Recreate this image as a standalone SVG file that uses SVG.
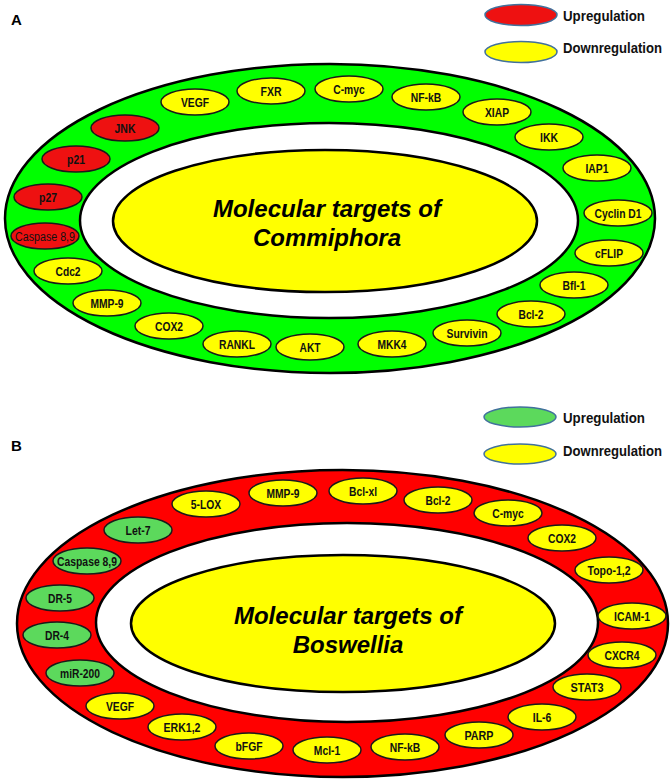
<svg xmlns="http://www.w3.org/2000/svg" width="671" height="784" viewBox="0 0 671 784">
<style>
text{font-family:"Liberation Sans",Arial,sans-serif;}
.n ellipse{stroke:#1a1a1a;stroke-width:1.5}
.n text{font-size:12px;font-weight:bold;text-anchor:middle;fill:#111}
.y ellipse{fill:#FFFF00}
.r ellipse{fill:#EE1111}
.g ellipse{fill:#5CD95C}
.ring{stroke:#000;stroke-width:2.5}
.title{font-size:24px;font-weight:bold;font-style:italic;text-anchor:middle;fill:#000}
.leg{font-size:13.8px;font-weight:bold;fill:#111}
.lege{stroke:#41719C;stroke-width:1.5}
.panel{font-size:15px;font-weight:bold;fill:#000}
</style>
<rect width="671" height="784" fill="#fff"/>
<g id="connectors"/>

<!-- Panel A -->
<g id="panelA-frame">
<text class="panel" x="11" y="25">A</text>
<ellipse class="ring" cx="330" cy="218.5" rx="325" ry="154.5" fill="#00FF00"/>
<ellipse class="ring" cx="329" cy="220.5" rx="249" ry="97.5" fill="#fff"/>
</g>
<g id="a-center">
<ellipse class="ring" cx="325" cy="221" rx="212" ry="71" fill="#FFFF00"/>
<text class="title" x="327" y="217">Molecular targets of</text>
<text class="title" x="327" y="246">Commiphora</text>
</g>
<g id="a-legend-up"><ellipse class="lege" cx="521" cy="15" rx="36" ry="10.5" fill="#EE1111"/><text class="leg" x="563" y="21" textLength="82" lengthAdjust="spacingAndGlyphs">Upregulation</text></g>
<g id="a-legend-down"><ellipse class="lege" cx="521" cy="52" rx="36" ry="10.5" fill="#FFFF00"/><text class="leg" x="563" y="53" textLength="99" lengthAdjust="spacingAndGlyphs">Downregulation</text></g>

<g id="a-jnk" class="n r"><ellipse cx="125" cy="128" rx="34" ry="13"/><text x="125" y="132.5" textLength="21" lengthAdjust="spacingAndGlyphs">JNK</text></g>
<g id="a-vegf" class="n y"><ellipse cx="195" cy="102" rx="34" ry="13"/><text x="195" y="106.5" textLength="28" lengthAdjust="spacingAndGlyphs">VEGF</text></g>
<g id="a-fxr" class="n y"><ellipse cx="271" cy="91" rx="34" ry="13"/><text x="271" y="95.5" textLength="21" lengthAdjust="spacingAndGlyphs">FXR</text></g>
<g id="a-cmyc" class="n y"><ellipse cx="349" cy="89" rx="34" ry="13"/><text x="349" y="93.5" textLength="31.5" lengthAdjust="spacingAndGlyphs">C-myc</text></g>
<g id="a-nfkb" class="n y"><ellipse cx="426" cy="97" rx="34" ry="13"/><text x="426" y="101.5" textLength="30.4" lengthAdjust="spacingAndGlyphs">NF-kB</text></g>
<g id="a-xiap" class="n y"><ellipse cx="497" cy="112" rx="34" ry="13"/><text x="497" y="116.5" textLength="24" lengthAdjust="spacingAndGlyphs">XIAP</text></g>
<g id="a-ikk" class="n y"><ellipse cx="549" cy="137" rx="34" ry="13"/><text x="549" y="141.5" textLength="18" lengthAdjust="spacingAndGlyphs">IKK</text></g>
<g id="a-iap1" class="n y"><ellipse cx="597" cy="168" rx="34" ry="13"/><text x="597" y="172.5" textLength="23" lengthAdjust="spacingAndGlyphs">IAP1</text></g>
<g id="a-cyclind1" class="n y"><ellipse cx="618" cy="213" rx="34" ry="13"/><text x="618" y="217.5" textLength="47" lengthAdjust="spacingAndGlyphs">Cyclin D1</text></g>
<g id="a-cflip" class="n y"><ellipse cx="609" cy="253" rx="34" ry="13"/><text x="609" y="257.5" textLength="28" lengthAdjust="spacingAndGlyphs">cFLIP</text></g>
<g id="a-bfl1" class="n y"><ellipse cx="574" cy="285" rx="34" ry="13"/><text x="574" y="289.5" textLength="23" lengthAdjust="spacingAndGlyphs">Bfl-1</text></g>
<g id="a-bcl2" class="n y"><ellipse cx="531" cy="314" rx="34" ry="13"/><text x="531" y="318.5" textLength="25" lengthAdjust="spacingAndGlyphs">Bcl-2</text></g>
<g id="a-survivin" class="n y"><ellipse cx="467" cy="333" rx="34" ry="13"/><text x="467" y="337.5" textLength="41" lengthAdjust="spacingAndGlyphs">Survivin</text></g>
<g id="a-mkk4" class="n y"><ellipse cx="392" cy="344" rx="34" ry="13"/><text x="392" y="348.5" textLength="29" lengthAdjust="spacingAndGlyphs">MKK4</text></g>
<g id="a-akt" class="n y"><ellipse cx="310" cy="347" rx="34" ry="13"/><text x="310" y="351.5" textLength="21" lengthAdjust="spacingAndGlyphs">AKT</text></g>
<g id="a-rankl" class="n y"><ellipse cx="237" cy="344" rx="34" ry="13"/><text x="237" y="348.5" textLength="36" lengthAdjust="spacingAndGlyphs">RANKL</text></g>
<g id="a-cox2" class="n y"><ellipse cx="169" cy="326" rx="34" ry="13"/><text x="169" y="330.5" textLength="28" lengthAdjust="spacingAndGlyphs">COX2</text></g>
<g id="a-mmp9" class="n y"><ellipse cx="107" cy="303" rx="34" ry="13"/><text x="107" y="307.5" textLength="33" lengthAdjust="spacingAndGlyphs">MMP-9</text></g>
<g id="a-cdc2" class="n y"><ellipse cx="68" cy="271" rx="34" ry="13"/><text x="68" y="275.5" textLength="25" lengthAdjust="spacingAndGlyphs">Cdc2</text></g>
<g id="a-caspase89" class="n r"><ellipse cx="45" cy="236" rx="34" ry="13"/><text x="45" y="240.5" style="font-weight:normal" textLength="60" lengthAdjust="spacingAndGlyphs">Caspase 8,9</text></g>
<g id="a-p27" class="n r"><ellipse cx="48" cy="197" rx="34" ry="13"/><text x="48" y="201.5" textLength="18" lengthAdjust="spacingAndGlyphs">p27</text></g>
<g id="a-p21" class="n r"><ellipse cx="76" cy="159" rx="34" ry="13"/><text x="76" y="163.5" textLength="18" lengthAdjust="spacingAndGlyphs">p21</text></g>

<!-- Panel B -->
<g id="panelB-frame">
<text class="panel" x="11" y="451">B</text>
<ellipse class="ring" cx="342.5" cy="623.5" rx="325.5" ry="153.5" fill="#FF0000"/>
<ellipse class="ring" cx="347" cy="622.5" rx="251" ry="99.5" fill="#fff"/>
</g>
<g id="b-center">
<ellipse class="ring" cx="343" cy="623.5" rx="212" ry="68.5" fill="#FFFF00"/>
<text class="title" x="348" y="624">Molecular targets of</text>
<text class="title" x="348" y="653">Boswellia</text>
</g>
<g id="b-legend-up"><ellipse class="lege" cx="520" cy="417" rx="36" ry="10" fill="#5CD95C"/><text class="leg" x="563" y="423" textLength="82" lengthAdjust="spacingAndGlyphs">Upregulation</text></g>
<g id="b-legend-down"><ellipse class="lege" cx="520" cy="454" rx="36" ry="10" fill="#FFFF00"/><text class="leg" x="563" y="456" textLength="99" lengthAdjust="spacingAndGlyphs">Downregulation</text></g>

<g id="b-let7" class="n g"><ellipse cx="138" cy="530" rx="34" ry="13"/><text x="138" y="534.5" textLength="25" lengthAdjust="spacingAndGlyphs">Let-7</text></g>
<g id="b-5lox" class="n y"><ellipse cx="206" cy="504" rx="34" ry="13"/><text x="206" y="508.5" textLength="30.4" lengthAdjust="spacingAndGlyphs">5-LOX</text></g>
<g id="b-mmp9" class="n y"><ellipse cx="283" cy="493" rx="34" ry="13"/><text x="283" y="497.5" textLength="33" lengthAdjust="spacingAndGlyphs">MMP-9</text></g>
<g id="b-bclxl" class="n y"><ellipse cx="363" cy="491" rx="34" ry="13"/><text x="363" y="495.5" textLength="28" lengthAdjust="spacingAndGlyphs">Bcl-xl</text></g>
<g id="b-bcl2" class="n y"><ellipse cx="438" cy="500" rx="34" ry="13"/><text x="438" y="504.5" textLength="25" lengthAdjust="spacingAndGlyphs">Bcl-2</text></g>
<g id="b-cmyc" class="n y"><ellipse cx="508" cy="513" rx="34" ry="13"/><text x="508" y="517.5" textLength="31.5" lengthAdjust="spacingAndGlyphs">C-myc</text></g>
<g id="b-cox2" class="n y"><ellipse cx="562" cy="538" rx="34" ry="13"/><text x="562" y="542.5" textLength="28" lengthAdjust="spacingAndGlyphs">COX2</text></g>
<g id="b-topo12" class="n y"><ellipse cx="609" cy="570" rx="34" ry="13"/><text x="609" y="574.5" textLength="43" lengthAdjust="spacingAndGlyphs">Topo-1,2</text></g>
<g id="b-icam1" class="n y"><ellipse cx="632" cy="616" rx="34" ry="13"/><text x="632" y="620.5" textLength="36" lengthAdjust="spacingAndGlyphs">ICAM-1</text></g>
<g id="b-cxcr4" class="n y"><ellipse cx="622" cy="655" rx="34" ry="13"/><text x="622" y="659.5" textLength="35" lengthAdjust="spacingAndGlyphs">CXCR4</text></g>
<g id="b-stat3" class="n y"><ellipse cx="587" cy="687" rx="34" ry="13"/><text x="587" y="691.5" textLength="33" lengthAdjust="spacingAndGlyphs">STAT3</text></g>
<g id="b-il6" class="n y"><ellipse cx="542" cy="717" rx="34" ry="13"/><text x="542" y="721.5" textLength="18.5" lengthAdjust="spacingAndGlyphs">IL-6</text></g>
<g id="b-parp" class="n y"><ellipse cx="479" cy="735" rx="34" ry="13"/><text x="479" y="739.5" textLength="29" lengthAdjust="spacingAndGlyphs">PARP</text></g>
<g id="b-nfkb" class="n y"><ellipse cx="405" cy="747" rx="34" ry="13"/><text x="405" y="751.5" textLength="30.4" lengthAdjust="spacingAndGlyphs">NF-kB</text></g>
<g id="b-mcl1" class="n y"><ellipse cx="327" cy="750" rx="34" ry="13"/><text x="327" y="754.5" textLength="26.4" lengthAdjust="spacingAndGlyphs">Mcl-1</text></g>
<g id="b-bfgf" class="n y"><ellipse cx="249" cy="746" rx="34" ry="13"/><text x="249" y="750.5" textLength="27" lengthAdjust="spacingAndGlyphs">bFGF</text></g>
<g id="b-erk12" class="n y"><ellipse cx="182" cy="727" rx="34" ry="13"/><text x="182" y="731.5" textLength="37" lengthAdjust="spacingAndGlyphs">ERK1,2</text></g>
<g id="b-vegf" class="n y"><ellipse cx="120" cy="706" rx="34" ry="13"/><text x="120" y="710.5" textLength="28" lengthAdjust="spacingAndGlyphs">VEGF</text></g>
<g id="b-mir200" class="n g"><ellipse cx="80" cy="673" rx="34" ry="13"/><text x="80" y="677.5" textLength="40" lengthAdjust="spacingAndGlyphs">miR-200</text></g>
<g id="b-dr4" class="n g"><ellipse cx="57" cy="635" rx="34" ry="13"/><text x="57" y="639.5" textLength="24" lengthAdjust="spacingAndGlyphs">DR-4</text></g>
<g id="b-dr5" class="n g"><ellipse cx="60" cy="598" rx="34" ry="13"/><text x="60" y="602.5" textLength="24" lengthAdjust="spacingAndGlyphs">DR-5</text></g>
<g id="b-caspase89" class="n g"><ellipse cx="87" cy="561" rx="34" ry="13"/><text x="87" y="565.5" textLength="60" lengthAdjust="spacingAndGlyphs">Caspase 8,9</text></g>
</svg>
